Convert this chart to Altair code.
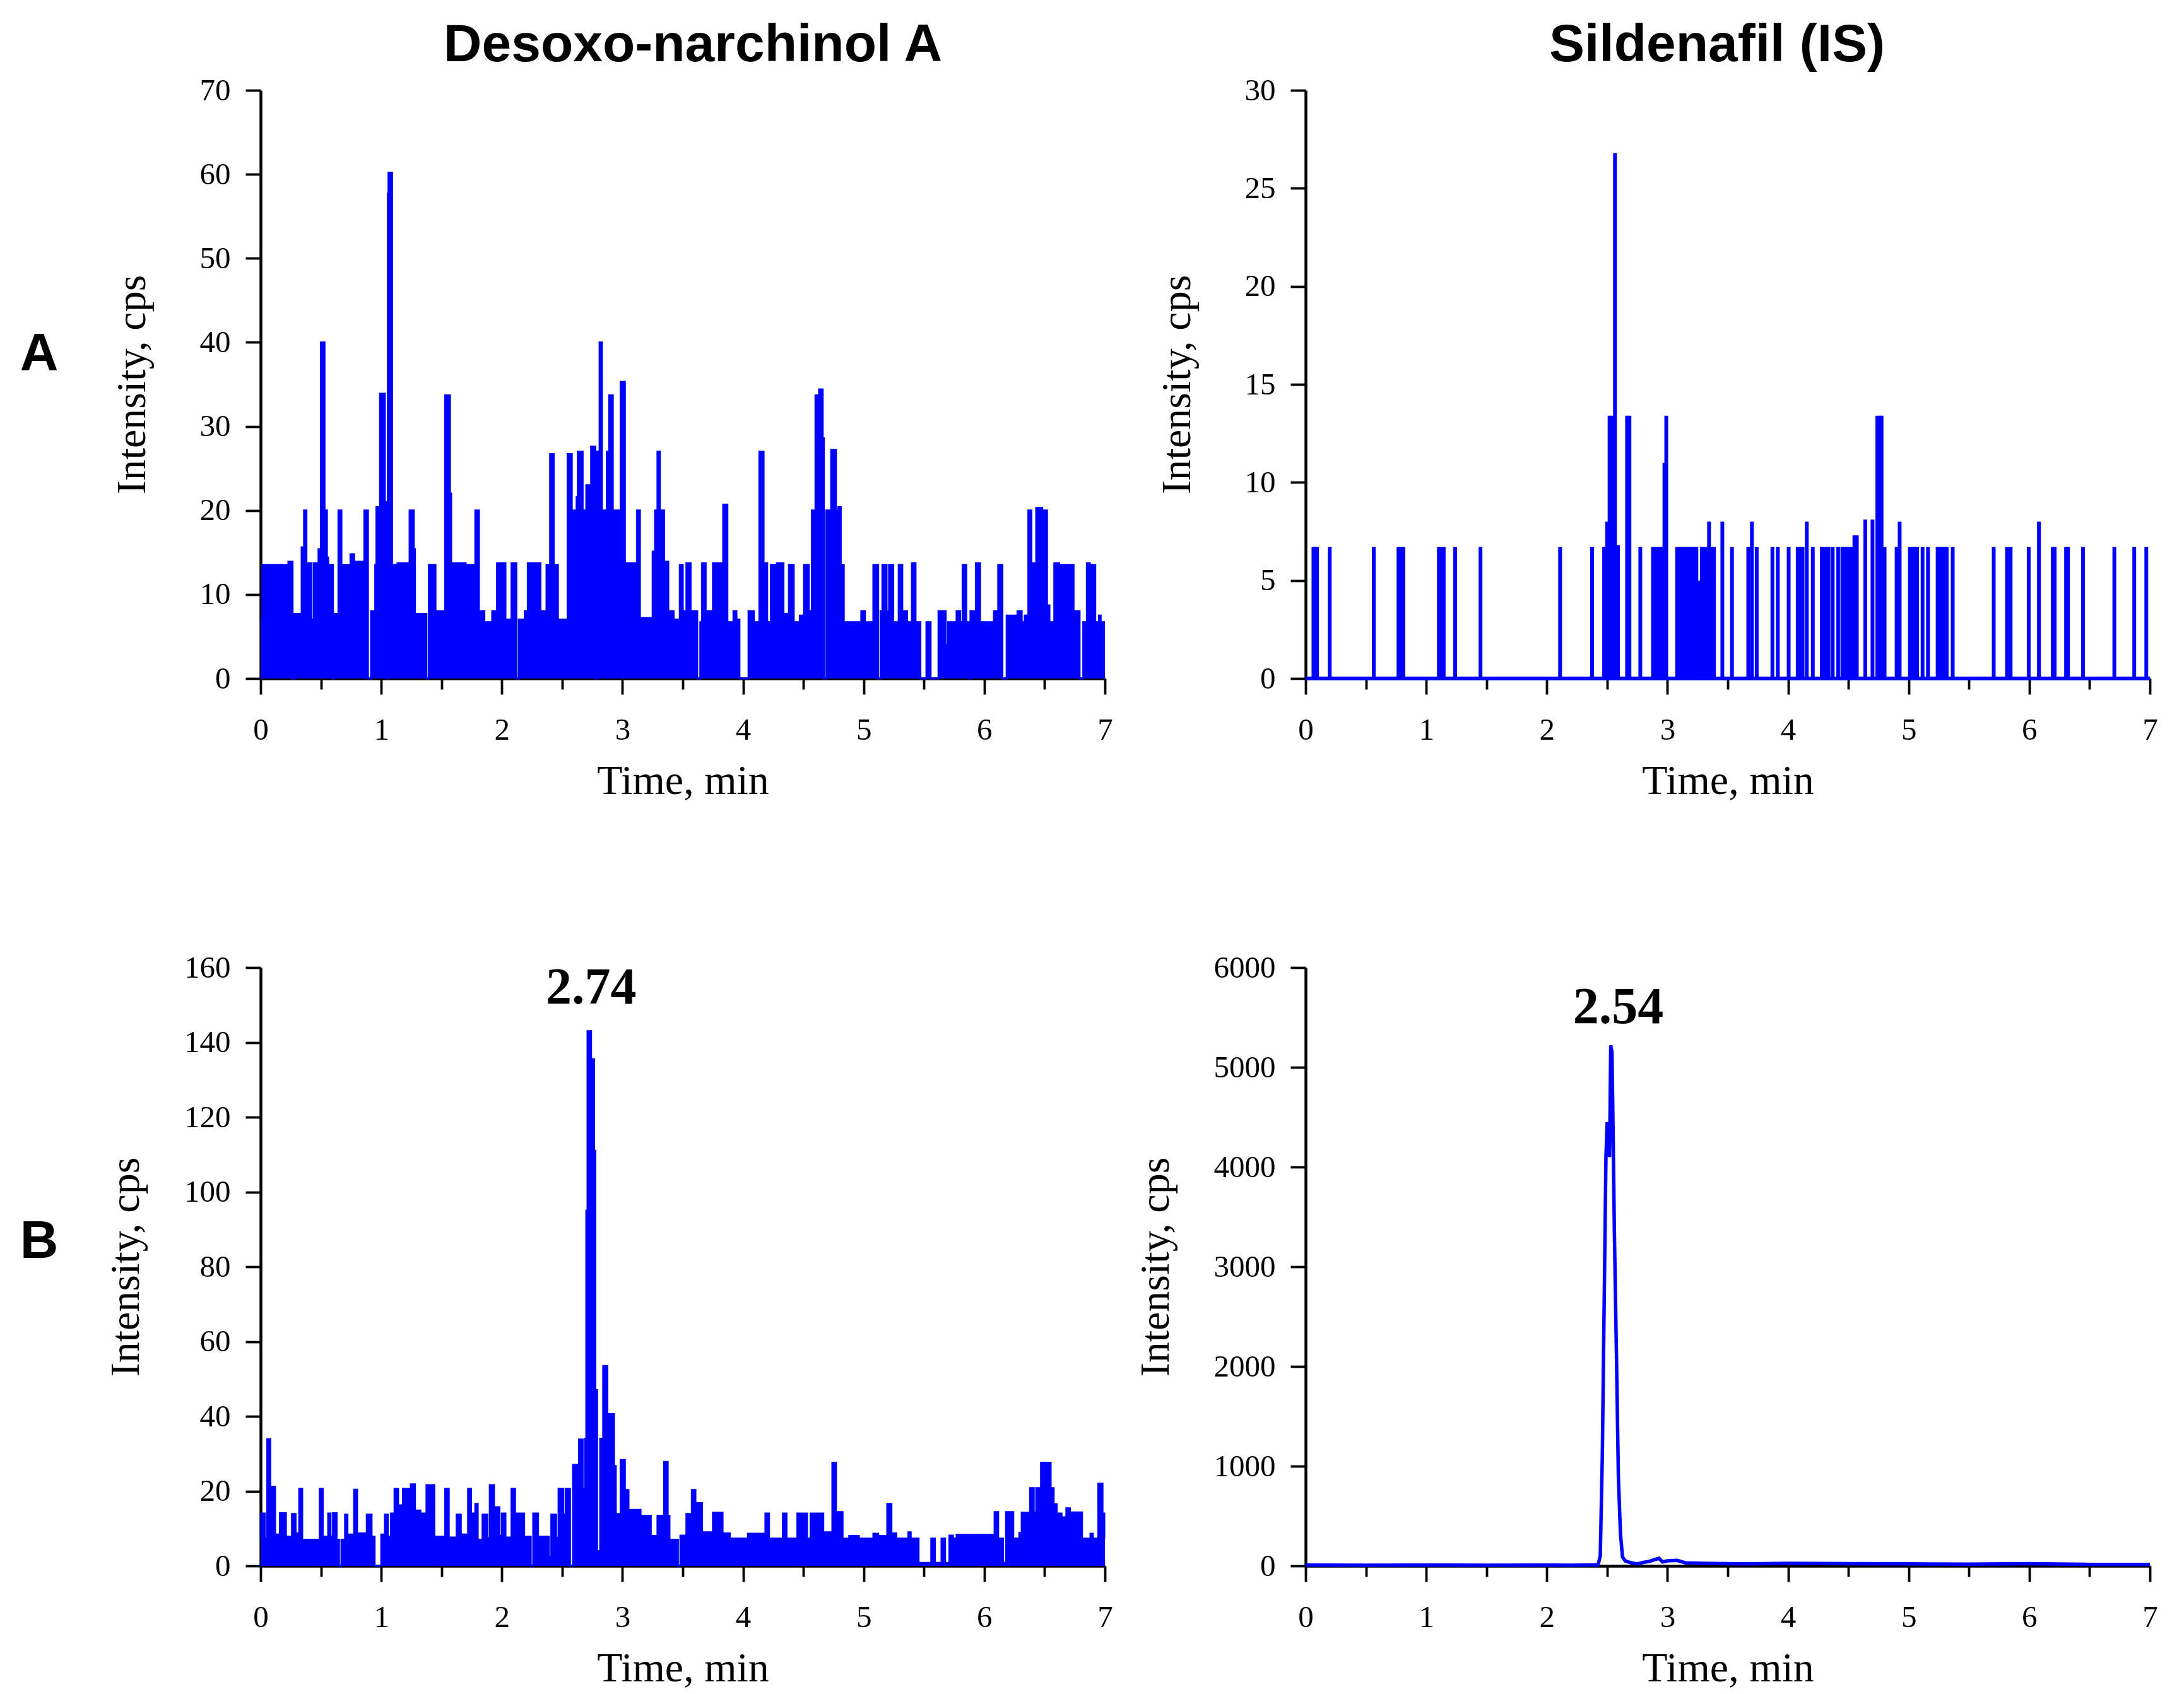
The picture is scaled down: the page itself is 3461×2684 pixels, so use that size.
import altair as alt
import pandas as pd

# ---------------- data (time in min, intensity in cps) ----------------
COL_TITLES = ["Desoxo-narchinol A", "Sildenafil (IS)"]
ROW_LABELS = ["A", "B"]

# A-left: blank, Desoxo-narchinol A channel (level holds until next time)
A1_T = [0.000, 0.015, 0.080, 0.090, 0.215, 0.230, 0.265, 0.280, 0.340, 0.360,
        0.380, 0.390, 0.420, 0.440, 0.480, 0.500, 0.530, 0.550, 0.560, 0.575,
        0.600, 0.610, 0.645, 0.670, 0.680, 0.745, 0.775, 0.860, 0.890, 0.915,
        0.950, 0.960, 0.990, 1.030, 1.045, 1.055, 1.060, 1.090, 1.120, 1.135,
        1.220, 1.235, 1.270, 1.280, 1.375, 1.395, 1.450, 1.530, 1.570, 1.580,
        1.700, 1.710, 1.780, 1.810, 1.855, 1.920, 1.945, 1.960, 2.030, 2.080,
        2.120, 2.140, 2.190, 2.215, 2.320, 2.370, 2.400, 2.430, 2.465, 2.545,
        2.580, 2.605, 2.620, 2.630, 2.670, 2.700, 2.725, 2.740, 2.775, 2.790,
        2.810, 2.830, 2.870, 2.890, 2.920, 2.985, 3.020, 3.120, 3.145, 3.250,
        3.270, 3.290, 3.310, 3.345, 3.380, 3.425, 3.475, 3.500, 3.530, 3.565,
        3.620, 3.645, 3.660, 3.690, 3.750, 3.825, 3.835, 3.870, 3.920, 3.945,
        3.970, 4.045, 4.090, 4.135, 4.170, 4.200, 4.230, 4.265, 4.280, 4.335,
        4.380, 4.420, 4.470, 4.505, 4.545, 4.570, 4.600, 4.630, 4.660, 4.670,
        4.690, 4.730, 4.770, 4.790, 4.810, 4.835, 4.980, 5.010, 5.080, 5.120,
        5.140, 5.155, 5.190, 5.210, 5.245, 5.290, 5.320, 5.330, 5.360, 5.400,
        5.430, 5.470, 5.520, 5.555, 5.620, 5.680, 5.700, 5.770, 5.800, 5.820,
        5.850, 5.875, 5.885, 5.930, 5.965, 6.080, 6.115, 6.150, 6.185, 6.260,
        6.275, 6.310, 6.335, 6.365, 6.390, 6.430, 6.480, 6.490, 6.520, 6.540,
        6.580, 6.620, 6.630, 6.740, 6.790, 6.820, 6.850, 6.875, 6.890, 6.920,
        6.950, 6.965, 7.000]
A1_V = [7, 13.5, 7, 13.5, 7, 13.9, 0, 7.7, 15.6, 20,
        7, 13.7, 7, 13.7, 15.4, 40, 20, 14.4, 7, 13.5,
        0, 7.7, 20, 7, 13.5, 14.8, 13.9, 20, 0, 8,
        13.5, 20.4, 33.9, 21, 0, 57.7, 60.2, 13.5, 8, 13.7,
        7, 20, 15.4, 7.7, 0, 13.5, 8, 33.7, 22, 13.7,
        9, 13.5, 20, 8, 6.7, 8, 6.7, 13.7, 7, 13.7,
        0, 7, 8, 13.7, 8, 13.5, 26.7, 13.5, 7, 26.7,
        20, 17.3, 21.6, 27, 20, 23, 4, 27.6, 0, 27,
        40, 20, 27, 33.7, 20, 35.3, 13.7, 20, 7.2, 15.1,
        20, 27, 20, 13.9, 8, 7, 13.5, 8, 13.7, 8,
        0, 6.7, 13.7, 8, 13.7, 8, 20.7, 6.7, 8, 7,
        0, 8, 6.7, 27, 13.7, 6.7, 13.5, 8, 13.7, 7.7,
        13.5, 6.7, 7.5, 13.5, 8, 20, 33.7, 34.4, 28.6, 0,
        20, 27.2, 20, 20.4, 13.5, 6.7, 8, 6.7, 13.5, 0,
        8, 13.5, 8, 13.5, 6.7, 13.5, 6.7, 8, 6.7, 13.7,
        6.7, 0, 6.7, 0, 8, 4, 6.7, 8, 6.7, 13.5,
        6.7, 0, 8, 13.7, 6.7, 8, 13.5, 0, 7.5, 4,
        8, 6.7, 7.5, 20, 13.7, 20.3, 8, 20, 8.7, 6.7,
        13.7, 8, 13.5, 8, 0, 6.7, 13.7, 6.7, 13.5, 6.7,
        7.5, 6.7, 6.7]

# A-right: blank, Sildenafil (IS) channel -- isolated spikes on a zero baseline
A2_T = [0.065, 0.080, 0.095, 0.200, 0.565, 0.770, 0.790, 0.810, 1.105, 1.125,
        1.145, 1.240, 1.450, 2.110, 2.375, 2.475, 2.500, 2.520, 2.540, 2.565,
        2.590, 2.665, 2.685, 2.775, 2.880, 2.900, 2.920, 2.940, 2.955, 2.975,
        2.990, 3.080, 3.100, 3.120, 3.140, 3.160, 3.180, 3.200, 3.220, 3.240,
        3.265, 3.285, 3.300, 3.325, 3.345, 3.365, 3.385, 3.455, 3.535, 3.670,
        3.700, 3.740, 3.870, 3.915, 4.005, 4.080, 4.100, 4.120, 4.155, 4.205,
        4.280, 4.300, 4.320, 4.335, 4.370, 4.415, 4.450, 4.470, 4.490, 4.510,
        4.530, 4.550, 4.570, 4.640, 4.700, 4.740, 4.760, 4.775, 4.800, 4.900,
        4.925, 5.010, 5.030, 5.050, 5.070, 5.115, 5.160, 5.240, 5.260, 5.280,
        5.300, 5.315, 5.365, 5.705, 5.815, 5.845, 5.995, 6.080, 6.195, 6.210,
        6.305, 6.320, 6.445, 6.705, 6.870, 6.970]
A2_V = [6.7, 6.7, 6.7, 6.7, 6.7, 6.7, 6.7, 6.7, 6.7, 6.7,
        6.7, 6.7, 6.7, 6.7, 6.7, 6.7, 8.0, 13.4, 13.4, 26.8,
        6.8, 13.4, 13.4, 6.7, 6.7, 6.7, 6.7, 6.7, 6.7, 11.0,
        13.4, 6.7, 6.7, 6.7, 6.7, 6.7, 6.7, 6.7, 6.7, 6.7,
        5.0, 6.7, 6.7, 6.7, 8.0, 6.7, 6.7, 8.0, 6.7, 6.7,
        8.0, 6.7, 6.7, 6.7, 6.7, 6.7, 6.7, 6.7, 8.0, 6.7,
        6.7, 6.7, 6.7, 6.7, 6.7, 6.7, 6.7, 6.7, 6.7, 6.7,
        6.7, 7.3, 7.3, 8.1, 8.1, 13.4, 13.4, 13.4, 6.7, 6.7,
        8.0, 6.7, 6.7, 6.7, 6.7, 6.7, 6.7, 6.7, 6.7, 6.7,
        6.7, 6.7, 6.7, 6.7, 6.7, 6.7, 6.7, 8.0, 6.7, 6.7,
        6.7, 6.7, 6.7, 6.7, 6.7, 6.7]

# B-left: spiked sample, Desoxo-narchinol A channel (level holds until next time)
B1_T = [0.000, 0.005, 0.035, 0.055, 0.080, 0.120, 0.160, 0.210, 0.260, 0.290,
        0.320, 0.345, 0.490, 0.515, 0.560, 0.580, 0.600, 0.630, 0.650, 0.670,
        0.700, 0.720, 0.775, 0.800, 0.880, 0.920, 0.945, 1.000, 1.030, 1.055,
        1.080, 1.110, 1.140, 1.180, 1.245, 1.280, 1.325, 1.375, 1.440, 1.530,
        1.560, 1.625, 1.660, 1.720, 1.745, 1.780, 1.800, 1.840, 1.880, 1.900,
        1.935, 1.950, 1.980, 2.000, 2.030, 2.080, 2.110, 2.185, 2.240, 2.260,
        2.300, 2.390, 2.410, 2.450, 2.470, 2.510, 2.530, 2.565, 2.590, 2.625,
        2.640, 2.670, 2.690, 2.700, 2.710, 2.740, 2.765, 2.775, 2.790, 2.815,
        2.840, 2.875, 2.930, 2.945, 2.985, 3.020, 3.050, 3.150, 3.235, 3.290,
        3.345, 3.375, 3.390, 3.460, 3.480, 3.530, 3.575, 3.605, 3.620, 3.660,
        3.750, 3.830, 3.890, 4.040, 4.185, 4.215, 4.330, 4.360, 4.450, 4.480,
        4.495, 4.530, 4.560, 4.665, 4.740, 4.770, 4.825, 4.880, 4.960, 5.080,
        5.120, 5.195, 5.230, 5.270, 5.370, 5.390, 5.455, 5.560, 5.590, 5.645,
        5.675, 5.710, 5.740, 5.770, 6.085, 6.115, 6.155, 6.180, 6.240, 6.290,
        6.310, 6.380, 6.410, 6.430, 6.460, 6.470, 6.510, 6.520, 6.550, 6.575,
        6.600, 6.640, 6.680, 6.710, 6.810, 6.880, 6.900, 6.945, 6.980, 6.995,
        7.000]
B1_V = [7.3, 14, 7.3, 33.9, 21.2, 8.4, 14.1, 7.8, 13.9, 8.7,
        20.6, 7, 20.6, 7.8, 14, 7.8, 14.1, 7, 0, 7,
        13.7, 8.4, 20.4, 8.7, 13.7, 7.8, 0, 8.4, 13.7, 7.8,
        14, 20.6, 16.2, 20.6, 21.8, 14.8, 14, 21.6, 7.8, 20.6,
        7.6, 13.7, 8.4, 20.6, 14, 16.6, 7, 13.7, 7.5, 21.6,
        8, 15.7, 8, 14, 7.6, 20.6, 14, 7.8, 0, 14,
        7.8, 2.5, 13.7, 7.5, 20.6, 13.7, 20.6, 0, 27, 13.7,
        33.8, 20.5, 34, 95, 143, 135.5, 111, 47, 4, 34,
        53.4, 40.6, 26.7, 13.9, 28.3, 20.3, 15, 13.4, 8, 13.4,
        27.8, 13.4, 7, 0, 8.1, 13.9, 20.3, 7.5, 16.8, 9,
        14.2, 8.7, 7.3, 8.6, 14, 7.3, 14, 7.3, 14, 7.3,
        14, 7.3, 14, 9, 27.6, 14.4, 7.3, 8, 7.3, 8.6,
        8, 16.6, 8.7, 7.3, 9, 7.3, 0.8, 7.3, 0.8, 7.3,
        0.8, 8.1, 7.3, 8.3, 14.4, 7.3, 0.8, 14.4, 7.3, 8.8,
        14.2, 20.8, 14.2, 20.8, 14, 27.6, 14, 27.6, 20.8, 16.5,
        14, 13, 15.4, 14.3, 7.3, 8.6, 7.3, 22, 14, 7.3,
        7.3]

# B-right: spiked sample, Sildenafil (IS) channel
B2_T = [0.000, 0.500, 1.000, 1.500, 2.000, 2.200, 2.400, 2.425, 2.443, 2.460,
        2.477, 2.490, 2.500, 2.510, 2.520, 2.530, 2.540, 2.550, 2.560, 2.577,
        2.593, 2.610, 2.627, 2.650, 2.700, 2.750, 2.800, 2.850, 2.900, 2.930,
        2.960, 3.000, 3.080, 3.150, 3.300, 3.600, 4.000, 4.500, 5.000, 5.500,
        6.000, 6.500, 7.000]
B2_V = [8, 6, 8, 6, 8, 6, 10, 10, 100, 1100,
        2800, 4100, 4450, 4200, 4100, 5220, 5150, 4300, 3350, 2125,
        900, 330, 90, 50, 30, 20, 35, 45, 65, 75,
        40, 50, 55, 30, 25, 20, 25, 22, 20, 18,
        22, 15, 15]

PEAK_RT = [2.74, 2.54]          # labelled retention times
PEAK_H = [143, 5220]            # peak apex heights

X_TICKS = [0, 0.5, 1, 1.5, 2, 2.5, 3, 3.5, 4, 4.5, 5, 5.5, 6, 6.5, 7]
Y_TICKS_A1 = [0, 10, 20, 30, 40, 50, 60, 70]
Y_TICKS_A2 = [0, 5, 10, 15, 20, 25, 30]
Y_TICKS_B1 = [0, 20, 40, 60, 80, 100, 120, 140, 160]
Y_TICKS_B2 = [0, 1000, 2000, 3000, 4000, 5000, 6000]

# ---------------- style ----------------
BLUE = "#0000ff"
SERIF = "Liberation Serif"
SANS = "Liberation Sans"
W = 1338
HA = 932
HB = 948


def xenc():
    return alt.X(
        "t:Q",
        scale=alt.Scale(domain=[0, 7], nice=False, zero=False),
        axis=alt.Axis(
            title="Time, min",
            values=X_TICKS,
            labelExpr="datum.value % 1 === 0 ? format(datum.value, 'd') : ''",
            tickSize={"condition": {"test": "datum.value % 1 === 0", "value": 25}, "value": 17},
            labelPadding=32,
            titlePadding=24,
            labelFlush=False,
        ),
    )


def yenc(ticks, tpad):
    return alt.Y(
        "v:Q",
        scale=alt.Scale(domain=[ticks[0], ticks[-1]], nice=False),
        axis=alt.Axis(
            title="Intensity, cps",
            values=ticks,
            format="d",
            tickSize=24,
            labelPadding=24,
            titlePadding=tpad,
            labelFlush=False,
        ),
    )


def step_panel(T, V, ticks, tpad):
    df = pd.DataFrame({"t": T, "v": V})
    area = alt.Chart(df).mark_area(interpolate="step-after", color=BLUE, opacity=1).encode(
        x=xenc(), y=yenc(ticks, tpad))
    line = alt.Chart(df).mark_line(interpolate="step-after", color=BLUE, strokeWidth=3).encode(
        x="t:Q", y="v:Q")
    return [area, line]


def col_title(text, xpos):
    return alt.Chart(pd.DataFrame({"label": [text]})).mark_text(
        font=SANS, fontWeight="bold", fontSize=84, align="center", baseline="alphabetic", color="black"
    ).encode(text="label:N", x=alt.value(xpos), y=alt.value(-46))


def row_label(text, ypos):
    return alt.Chart(pd.DataFrame({"label": [text]})).mark_text(
        font=SANS, fontWeight="bold", fontSize=84, align="center", baseline="alphabetic", color="black"
    ).encode(text="label:N", x=alt.value(-351), y=alt.value(ypos))


def peak_label(i, dy, dx):
    df = pd.DataFrame({"t": [PEAK_RT[i]], "v": [PEAK_H[i]], "label": [f"{PEAK_RT[i]:.2f}"]})
    return alt.Chart(df).mark_text(
        font=SERIF, fontWeight="bold", fontSize=82, align="center", baseline="alphabetic",
        color="black", dy=dy, dx=dx
    ).encode(x="t:Q", y="v:Q", text="label:N")


# A-left
a1 = alt.layer(*step_panel(A1_T, A1_V, Y_TICKS_A1, 73),
               col_title(COL_TITLES[0], 685), row_label(ROW_LABELS[0], 444)).properties(width=W, height=HA)

# A-right
df_a2 = pd.DataFrame({"t": A2_T, "v": A2_V})
base_a2 = alt.Chart(df_a2).mark_rule(color=BLUE, strokeWidth=5).encode(
    x=alt.datum(0), x2=alt.datum(7), y=alt.datum(0))
spikes_a2 = alt.Chart(df_a2).mark_rule(color=BLUE, strokeWidth=6).encode(
    x=xenc(), y=yenc(Y_TICKS_A2, 73), y2=alt.datum(0))
a2 = alt.layer(spikes_a2, base_a2, col_title(COL_TITLES[1], 652)).properties(width=W, height=HA)

# B-left
b1 = alt.layer(*step_panel(B1_T, B1_V, Y_TICKS_B1, 58), peak_label(0, -44, 0),
               row_label(ROW_LABELS[1], 460)).properties(width=W, height=HB)

# B-right
df_b2 = pd.DataFrame({"t": B2_T, "v": B2_V})
line_b2 = alt.Chart(df_b2).mark_line(color=BLUE, strokeWidth=5.5).encode(
    x=xenc(), y=yenc(Y_TICKS_B2, 58))
b2 = alt.layer(line_b2, peak_label(1, -35, 10)).properties(width=W, height=HB)

chart = alt.concat(
    a1, a2, b1, b2, columns=2, spacing={"row": 458, "column": 318}, bounds="flush"
).properties(
    padding={"left": 23, "top": 22, "right": 20, "bottom": 10},
    background="white",
).configure_view(stroke=None).configure_axis(
    domainColor="black", domainWidth=4.5, tickColor="black", tickWidth=3.8,
    labelFont=SERIF, labelFontSize=49, labelColor="black",
    titleFont=SERIF, titleFontSize=66, titleFontWeight="normal", titleColor="black",
    grid=False,
)

chart.save("out.html", embed_options={"renderer": "svg", "actions": False})
